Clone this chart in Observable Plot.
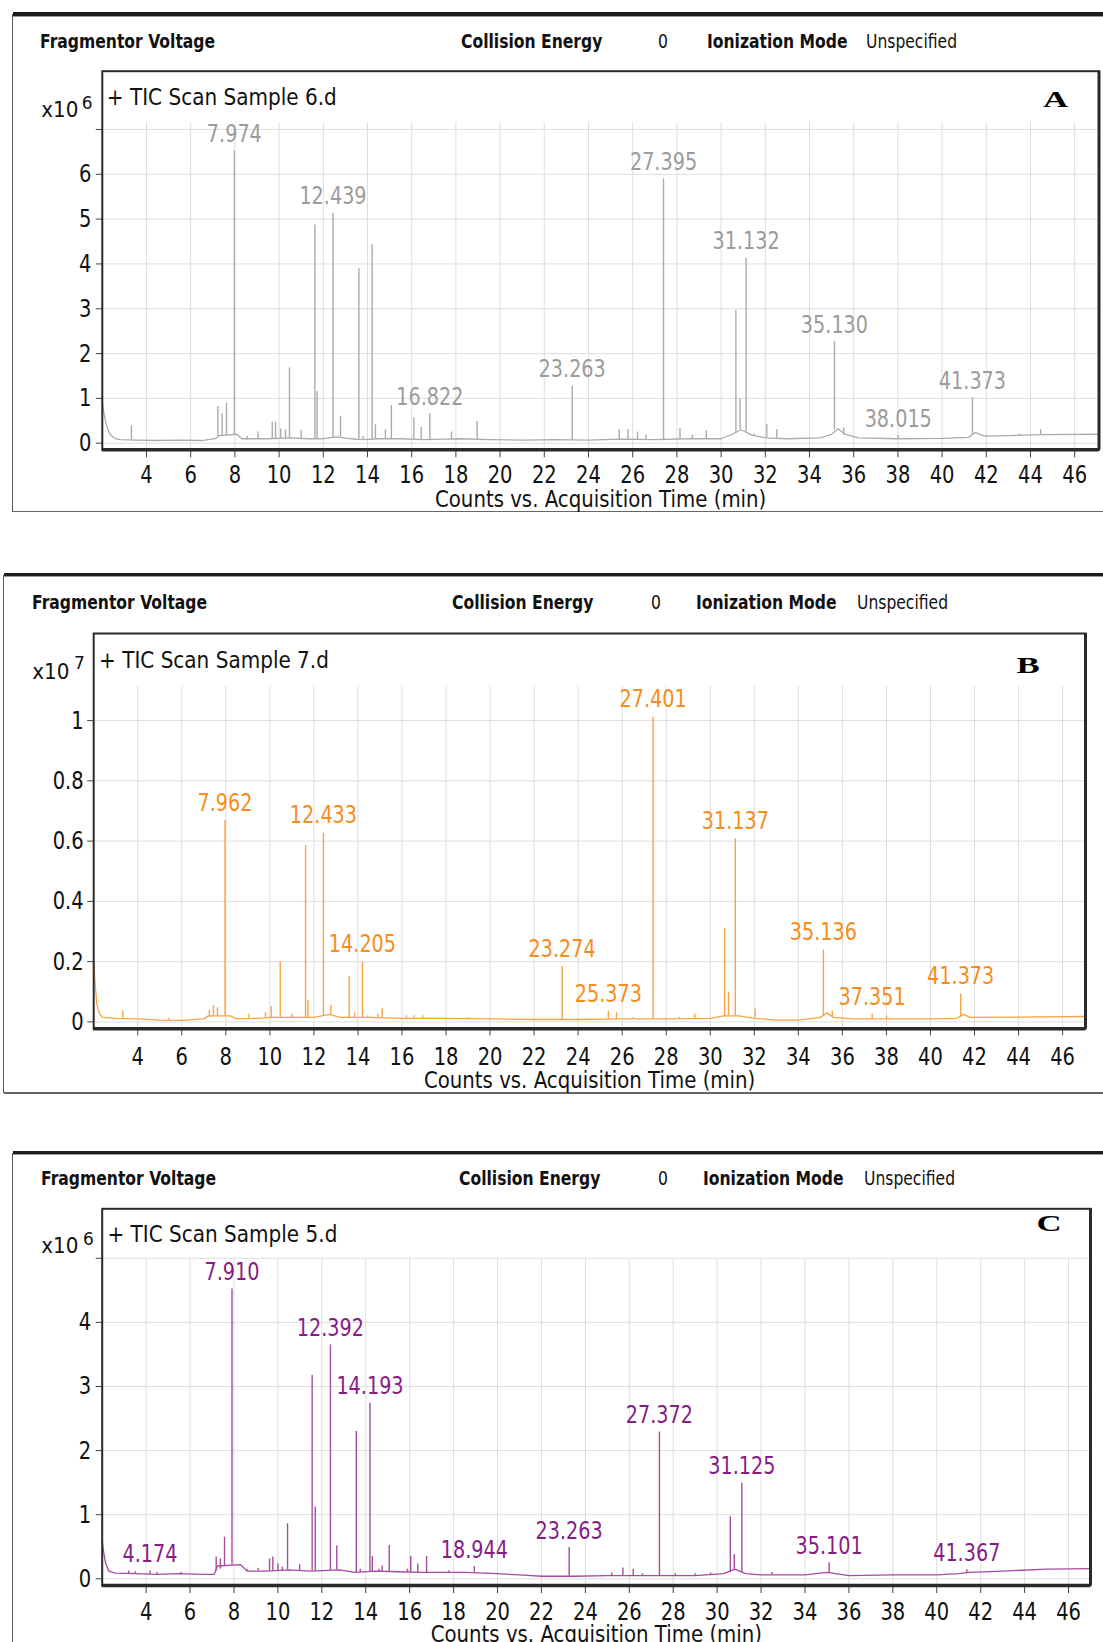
<!DOCTYPE html>
<html>
<head>
<meta charset="utf-8">
<script src="https://cdn.jsdelivr.net/npm/d3@7"></script>
<script src="https://cdn.jsdelivr.net/npm/@observablehq/plot@0.6"></script>
<style>
  html, body { margin: 0; padding: 0; background: #fff; }
  #page { position: relative; width: 1103px; height: 1642px; overflow: hidden; background: #fff;
          font-family: "DejaVu Sans", "Noto Sans", sans-serif; }
  .bar { position: absolute; }
  .hdr { position: absolute; white-space: nowrap; font-size: 19px; line-height: 24px; height: 24px;
         transform-origin: 0 50%; transform: scaleX(0.82); color: #111; }
  .hdr.b { font-weight: bold; }
  .plot { position: absolute; left: 0; }
</style>
</head>
<body>
<div id="page"></div>
<script>
// ---------------- data ----------------
const timeTicks = [4, 6, 8, 10, 12, 14, 16, 18, 20, 22, 24, 26, 28, 30, 32, 34, 36, 38, 40, 42, 44, 46];
const headerItems = ["Fragmentor Voltage", "Collision Energy", "0", "Ionization Mode", "Unspecified"];
const headerBold = [true, true, false, true, false];
const sampleTitles = ["+ TIC Scan Sample 6.d", "+ TIC Scan Sample 7.d", "+ TIC Scan Sample 5.d"];
const panelLetters = ["A", "B", "C"];
const exponents = ["6", "7", "6"];
const xTitle = "Counts vs. Acquisition Time (min)";

const yTicksA = [0, 1, 2, 3, 4, 5, 6, 7];
const yTicksB = [0, 0.2, 0.4, 0.6, 0.8, 1];
const yTicksC = [0, 1, 2, 3, 4, 5];
const yLabelMax = [6, 1, 4];

// baseline samples [time, counts]
const baselineA = [[2.0, 0.9], [2.1, 0.6], [2.2, 0.38], [2.35, 0.2], [2.55, 0.11], [2.8, 0.08], [3.5, 0.07], [4.5, 0.06],
  [5.5, 0.07], [6.5, 0.06], [7.1, 0.1], [7.3, 0.17], [8.1, 0.2], [8.3, 0.1], [9.5, 0.1], [10.5, 0.12], [11.3, 0.1],
  [12.0, 0.1], [12.6, 0.14], [13.2, 0.1], [13.8, 0.08], [14.5, 0.1], [15.5, 0.1], [16.5, 0.08], [17.5, 0.09],
  [18.2, 0.1], [19.5, 0.08], [21, 0.07], [22.5, 0.08], [24, 0.07], [25.5, 0.09], [27, 0.08], [28.5, 0.1], [30.0, 0.1],
  [30.5, 0.2], [30.9, 0.3], [31.4, 0.18], [32, 0.12], [33, 0.1], [34.5, 0.12], [35.0, 0.2], [35.3, 0.32], [35.6, 0.2],
  [36.2, 0.12], [38, 0.1], [40, 0.11], [41.2, 0.13], [41.5, 0.24], [41.9, 0.16], [43, 0.17], [44.5, 0.19], [47.1, 0.2]];
const baselineB = [[2.0, 0.2], [2.07, 0.12], [2.14, 0.06], [2.25, 0.03], [2.4, 0.015], [3, 0.012], [4, 0.01], [5, 0.006],
  [6, 0.005], [7, 0.01], [7.2, 0.02], [8.2, 0.02], [8.5, 0.01], [9.5, 0.012], [10, 0.015], [11, 0.015], [12.0, 0.015],
  [12.7, 0.025], [13.2, 0.015], [14.5, 0.015], [16, 0.012], [18, 0.012], [20, 0.01], [22, 0.008], [24, 0.008],
  [26, 0.01], [28, 0.01], [30, 0.012], [30.6, 0.02], [31.3, 0.02], [32, 0.012], [33, 0.006], [34, 0.006], [35, 0.015],
  [35.3, 0.03], [35.6, 0.015], [36.5, 0.01], [38, 0.01], [40, 0.01], [41.2, 0.012], [41.5, 0.025], [41.8, 0.015],
  [44, 0.016], [47.04, 0.018]];
const baselineC = [[2.0, 0.6], [2.05, 0.45], [2.15, 0.25], [2.3, 0.12], [2.6, 0.09], [3.5, 0.08], [4.5, 0.07], [5.5, 0.08],
  [6.5, 0.07], [7.1, 0.07], [7.25, 0.2], [8.3, 0.22], [8.6, 0.12], [9.5, 0.12], [10.5, 0.14], [11.5, 0.12], [12.8, 0.14],
  [13.5, 0.1], [14.5, 0.12], [15.5, 0.11], [16.5, 0.1], [17.5, 0.1], [18.5, 0.1], [20, 0.08], [21, 0.06], [22, 0.04],
  [23.5, 0.04], [25, 0.05], [27, 0.05], [29, 0.05], [30.3, 0.08], [30.8, 0.15], [31.3, 0.08], [32, 0.06], [34, 0.06],
  [35, 0.1], [35.4, 0.08], [36, 0.05], [38, 0.06], [40, 0.06], [41, 0.08], [41.5, 0.1], [43, 0.12], [45, 0.15], [47, 0.16]];

// peaks [retention time, apex, base]
const peaksA = [[3.32, 0.39, 0.07], [7.23, 0.82, 0.15], [7.42, 0.66, 0.15], [7.62, 0.89, 0.17], [7.974, 6.52, 0.2],
  [8.56, 0.15, 0.08], [9.05, 0.25, 0.1], [9.69, 0.47, 0.1], [9.84, 0.47, 0.1], [10.07, 0.32, 0.11], [10.29, 0.3, 0.12],
  [10.47, 1.68, 0.12], [11.0, 0.28, 0.1], [11.62, 4.87, 0.1], [11.72, 1.15, 0.1], [12.439, 5.13, 0.12], [12.78, 0.6, 0.14],
  [13.61, 3.89, 0.09], [13.8, 0.15, 0.08], [14.21, 4.43, 0.09], [14.36, 0.41, 0.1], [14.81, 0.3, 0.1], [15.08, 0.84, 0.1],
  [16.1, 0.57, 0.09], [16.43, 0.35, 0.08], [16.822, 0.66, 0.08], [17.8, 0.25, 0.09], [18.96, 0.49, 0.09],
  [23.263, 1.27, 0.07], [25.39, 0.3, 0.08], [25.79, 0.3, 0.08], [26.22, 0.25, 0.08], [26.6, 0.18, 0.08],
  [27.395, 5.9, 0.08], [28.14, 0.33, 0.1], [28.7, 0.18, 0.1], [29.33, 0.28, 0.1], [30.67, 2.96, 0.22], [30.86, 0.99, 0.3],
  [31.132, 4.13, 0.25], [31.5, 0.2, 0.15], [32.07, 0.41, 0.12], [32.52, 0.3, 0.11], [35.13, 2.27, 0.3],
  [35.55, 0.34, 0.18], [38.015, 0.17, 0.1], [41.373, 1.01, 0.2], [43.5, 0.2, 0.17], [44.46, 0.3, 0.19]];
const peaksB = [[3.32, 0.035, 0.012], [5.4, 0.012, 0.005], [7.25, 0.038, 0.015], [7.44, 0.055, 0.02], [7.62, 0.047, 0.02],
  [7.962, 0.668, 0.02], [9.05, 0.025, 0.012], [9.8, 0.03, 0.015], [10.06, 0.05, 0.015], [10.47, 0.2, 0.015],
  [11.0, 0.025, 0.015], [11.62, 0.585, 0.015], [11.73, 0.071, 0.015], [12.433, 0.626, 0.02], [12.77, 0.055, 0.025],
  [13.6, 0.151, 0.015], [13.85, 0.03, 0.015], [14.205, 0.198, 0.015], [14.45, 0.02, 0.015], [14.9, 0.025, 0.015],
  [15.1, 0.045, 0.015], [16.2, 0.02, 0.012], [16.55, 0.02, 0.012], [16.95, 0.02, 0.012], [19.0, 0.015, 0.012],
  [23.274, 0.184, 0.008], [25.373, 0.035, 0.01], [25.74, 0.03, 0.01], [26.5, 0.015, 0.01], [27.401, 1.011, 0.01],
  [28.6, 0.015, 0.01], [29.3, 0.025, 0.01], [30.65, 0.309, 0.02], [30.83, 0.099, 0.02], [31.137, 0.608, 0.02],
  [32.04, 0.043, 0.012], [35.136, 0.239, 0.02], [35.54, 0.035, 0.015], [37.351, 0.025, 0.01], [38.0, 0.02, 0.01],
  [41.373, 0.093, 0.015]];
const peaksC = [[3.21, 0.12, 0.08], [3.5, 0.11, 0.08], [4.174, 0.12, 0.07], [4.5, 0.1, 0.07], [5.6, 0.1, 0.08],
  [7.19, 0.34, 0.12], [7.38, 0.31, 0.15], [7.57, 0.65, 0.2], [7.91, 4.52, 0.22], [8.6, 0.15, 0.12], [9.1, 0.16, 0.12],
  [9.62, 0.31, 0.12], [9.77, 0.34, 0.12], [10.0, 0.23, 0.12], [10.2, 0.18, 0.12], [10.44, 0.86, 0.14], [10.99, 0.22, 0.13],
  [11.56, 3.17, 0.12], [11.7, 1.12, 0.12], [12.392, 3.65, 0.13], [12.68, 0.51, 0.14], [13.57, 2.3, 0.1], [13.75, 0.15, 0.1],
  [14.193, 2.74, 0.11], [14.3, 0.35, 0.11], [14.6, 0.15, 0.11], [14.75, 0.2, 0.11], [15.07, 0.52, 0.11], [15.9, 0.15, 0.1],
  [16.05, 0.35, 0.1], [16.37, 0.23, 0.1], [16.77, 0.35, 0.1], [17.78, 0.12, 0.1], [18.944, 0.19, 0.1], [19.5, 0.1, 0.09],
  [23.263, 0.49, 0.04], [25.2, 0.09, 0.05], [25.71, 0.17, 0.05], [26.18, 0.15, 0.05], [26.6, 0.08, 0.05],
  [27.372, 2.29, 0.05], [28.1, 0.08, 0.05], [29.0, 0.08, 0.05], [29.7, 0.09, 0.05], [30.6, 0.97, 0.1], [30.78, 0.38, 0.14],
  [31.125, 1.49, 0.1], [32.5, 0.1, 0.06], [35.101, 0.25, 0.1], [38.0, 0.07, 0.06], [41.367, 0.14, 0.09]];

// annotated peaks [retention time, apex]
const labelsA = [[7.974, 6.52], [12.439, 5.13], [16.822, 0.66], [23.263, 1.27], [27.395, 5.9], [31.132, 4.13],
  [35.130, 2.27], [38.015, 0.17], [41.373, 1.01]];
const labelsB = [[7.962, 0.668], [12.433, 0.626], [14.205, 0.198], [23.274, 0.184], [25.373, 0.035], [27.401, 1.011],
  [31.137, 0.608], [35.136, 0.239], [37.351, 0.025], [41.373, 0.093]];
const labelsC = [[4.174, 0.12], [7.910, 4.52], [12.392, 3.65], [14.193, 2.74], [18.944, 0.19], [23.263, 0.49],
  [27.372, 2.29], [31.125, 1.49], [35.101, 0.25], [41.367, 0.14]];

// ---------------- layout (positions & styles only) ----------------
const layout = [
  { top: 0, h: 520, mt: 70.7, mb: 70.7, ml: 101.8, mr: 4.5, xd: [2, 47.1], yd: [-0.147, 8.30], gridTop: 7.15,
    xts: 8, xtp: 7.3, ytp: 5, labelDy: -16.5, subDx: 4.5, subDy: 26.3, letDx: -43.5, letDy: 27.8, titleDy: 49.7,
    x10Dx: -61.1, x10Dy: 39.3, expDx: -20.5, expDy: 32.5,
    line: "#ababab", labelColor: "#9b9b9b",
    box: { left: 12.7, top: 14, bottom: 511.7 }, hdrY: 41, hdrX: [39.5, 460.5, 658, 706.6, 866] },
  { top: 560, h: 540, mt: 73, mb: 71.7, ml: 93.2, mr: 18, xd: [2, 47.04], yd: [-0.0229, 1.289], gridTop: 1.113,
    xts: 7, xtp: 11.3, ytp: 4, labelDy: -17.5, subDx: 5.3, subDy: 26.9, letDx: -57.4, letDy: 32, titleDy: 51.7,
    x10Dx: -61.5, x10Dy: 39, expDx: -19.8, expDy: 30.5,
    line: "#f7a441", labelColor: "#f78c1c",
    box: { left: 3.5, top: 574.5, bottom: 1093 }, hdrY: 602, hdrX: [31.7, 451.6, 651, 696.4, 856.8] },
  { top: 1140, h: 502, mt: 68.3, mb: 57, ml: 101.7, mr: 13, xd: [2, 47], yd: [-0.1045, 5.772], gridTop: 5,
    xts: 8, xtp: 8.3, ytp: 5, labelDy: -16.5, subDx: 5.2, subDy: 26, letDx: -41.4, letDy: 14.2, titleDy: 49,
    x10Dx: -60.9, x10Dy: 37.7, expDx: -19.2, expDy: 30.5,
    line: "#a64c9f", labelColor: "#861c86",
    box: { left: 12.7, top: 1152.7, bottom: null }, hdrY: 1178.3, hdrX: [40.8, 458.6, 657.7, 703.4, 863.8] }
];

const panels = [
  { baseline: baselineA, peaks: peaksA, labels: labelsA, yTicks: yTicksA },
  { baseline: baselineB, peaks: peaksB, labels: labelsB, yTicks: yTicksB },
  { baseline: baselineC, peaks: peaksC, labels: labelsC, yTicks: yTicksC }
];

const page = document.getElementById("page");

function addDiv(style, cls) {
  const d = document.createElement("div");
  if (cls) d.className = cls;
  Object.assign(d.style, style);
  page.appendChild(d);
  return d;
}

// horizontal condensing factor per text group (the reference's type is tall and narrow)
const K = { "peak-labels": 0.8, "subtitle": 0.89, "xtitle": 0.84, "letter": 1.45, "scale": 0.95, "expo": 1.0 };
function condense(svg) {
  svg.querySelectorAll("text").forEach(t => {
    const g = t.closest("[aria-description]");
    const key = g ? g.getAttribute("aria-description") : "";
    const k = key in K ? K[key] : 0.78;
    const L = t.getComputedTextLength();
    if (L > 0 && k !== 1) {
      t.setAttribute("textLength", (L * k).toFixed(2));
      t.setAttribute("lengthAdjust", "spacingAndGlyphs");
    }
  });
}

panels.forEach((p, i) => {
  const L = layout[i];
  // outer box
  addDiv({ left: L.box.left + "px", top: (L.box.top - 2) + "px", width: (1103 - L.box.left) + "px", height: "3.5px", background: "#1c1c1c" }, "bar");
  addDiv({ left: L.box.left + "px", top: (L.box.top + 1.5) + "px", width: (1103 - L.box.left) + "px", height: "1px", background: "#9a9a9a" }, "bar");
  addDiv({ left: (L.box.left - 0.75) + "px", top: L.box.top + "px", width: "1.5px",
           height: ((L.box.bottom ?? 1700) - L.box.top) + "px", background: "#555" }, "bar");
  if (L.box.bottom != null)
    addDiv({ left: L.box.left + "px", top: (L.box.bottom - 0.75) + "px", width: (1103 - L.box.left) + "px", height: "1.5px", background: "#666" }, "bar");
  // header row
  headerItems.forEach((txt, j) => {
    const s = addDiv({ left: L.hdrX[j] + "px", top: (L.hdrY - 12) + "px" }, "hdr" + (headerBold[j] ? " b" : ""));
    s.textContent = txt;
  });

  const fmt = d => (d <= yLabelMax[i] ? String(d) : "");
  const chart = Plot.plot({
    width: 1103, height: L.h,
    marginTop: L.mt, marginBottom: L.mb, marginLeft: L.ml, marginRight: L.mr,
    x: { domain: L.xd },
    y: { domain: L.yd },
    style: { fontFamily: '"DejaVu Sans", "Noto Sans", sans-serif', color: "#111", background: "transparent", overflow: "visible" },
    marks: [
      Plot.ruleX(timeTicks, { y1: L.yd[0], y2: L.gridTop, stroke: "#dedede", strokeWidth: 1 }),
      Plot.ruleY(p.yTicks, { stroke: "#dedede", strokeWidth: 1 }),
      Plot.line(p.baseline, { x: d => d[0], y: d => d[1], stroke: L.line, strokeWidth: 1.3 }),
      Plot.ruleX(p.peaks, { x: d => d[0], y1: d => d[2], y2: d => d[1], stroke: L.line, strokeWidth: 1.4 }),
      Plot.text(p.labels, { x: d => d[0], y: d => d[1], text: d => d[0].toFixed(3), dy: L.labelDy,
        lineAnchor: "middle", fill: L.labelColor, fontSize: 24, ariaDescription: "peak-labels" }),
      Plot.axisX(timeTicks, { anchor: "bottom", tickSize: L.xts, tickPadding: L.xtp, fontSize: 25, stroke: "#444", label: null }),
      Plot.axisY(p.yTicks, { anchor: "left", tickSize: 6, tickPadding: L.ytp, fontSize: 25, stroke: "#444",
        tickFormat: fmt, label: null }),
      Plot.frame({ stroke: "#2a2a2a", strokeWidth: 2 }),
      Plot.ruleY([L.yd[0]], { stroke: "#2a2a2a", strokeWidth: 3.5 }),
      Plot.ruleX([L.xd[1]], { stroke: "#2a2a2a", strokeWidth: 3 }),
      Plot.text([sampleTitles[i]], { frameAnchor: "top-left", dx: L.subDx, dy: L.subDy, textAnchor: "start",
        lineAnchor: "middle", fontSize: 22.5, fill: "#111", ariaDescription: "subtitle" }),
      Plot.text([panelLetters[i]], { frameAnchor: "top-right", dx: L.letDx, dy: L.letDy, textAnchor: "middle",
        lineAnchor: "middle", fontSize: 24, fontWeight: "bold", fontFamily: '"Liberation Serif", serif', fill: "#000", ariaDescription: "letter" }),
      Plot.text([xTitle], { frameAnchor: "bottom", dy: L.titleDy, lineAnchor: "middle", fontSize: 23.5, fill: "#111", ariaDescription: "xtitle" }),
      Plot.text(["x10"], { frameAnchor: "top-left", dx: L.x10Dx, dy: L.x10Dy, textAnchor: "start", lineAnchor: "middle",
        fontSize: 21, fill: "#111", ariaDescription: "scale" }),
      Plot.text([exponents[i]], { frameAnchor: "top-left", dx: L.expDx, dy: L.expDy, textAnchor: "start", lineAnchor: "middle",
        fontSize: 17, fill: "#111", ariaDescription: "expo" })
    ]
  });
  chart.classList.add("plot");
  chart.style.top = L.top + "px";
  page.appendChild(chart);
  condense(chart);
});
</script>
</body>
</html>
